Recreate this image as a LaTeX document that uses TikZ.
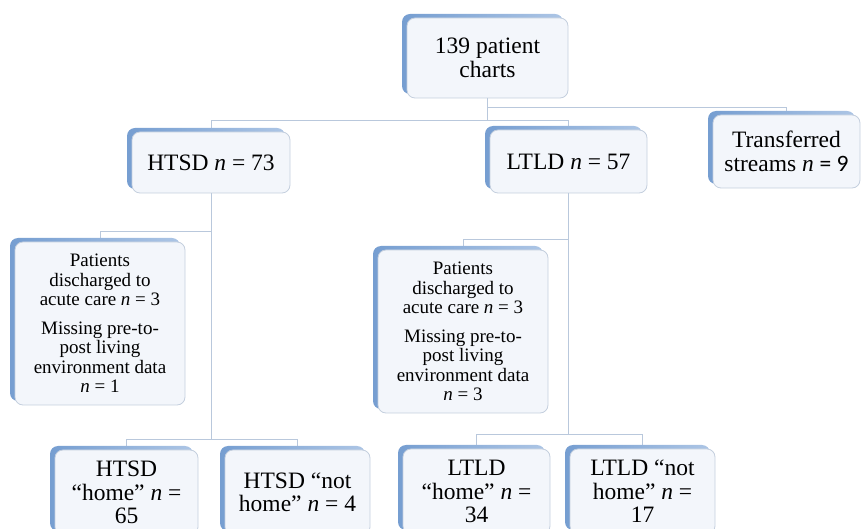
\documentclass[tikz,border=0pt]{standalone}
\usepackage{fontspec}
\setmainfont{Liberation Serif}
\newfontfamily\calfont{Carlito}
\usepackage{tikz}
\usetikzlibrary{backgrounds}

\definecolor{boxfill}{RGB}{243,246,251}
\definecolor{boxline}{RGB}{196,207,222}
\definecolor{shadowdark}{RGB}{118,158,209}
\definecolor{shadowlight}{RGB}{172,197,229}
\definecolor{linkblue}{RGB}{185,200,220}

\tikzset{
    box/.style={draw=boxline, fill=boxfill, line width=0.8pt, rounded corners=8pt,
        align=center, inner sep=0pt, outer sep=0pt,
        font=\fontsize{23.5}{23.5}\selectfont,
        preaction={draw=none, left color=shadowdark, right color=shadowlight,
            transform canvas={shift={(-5pt,4pt)}}}},
    smallbox/.style={box, font=\fontsize{19}{19.5}\selectfont},
    link/.style={draw=linkblue, line width=1pt}
}

\begin{document}
\begin{tikzpicture}[x=1pt, y=-1pt]
        \useasboundingbox (0,0) rectangle (863,529);
        \clip (0,0) rectangle (863,529);
        % top level
        \node[box, minimum width=161, minimum height=80] (root) at (487.5,58) {139 patient\\charts};
        \node[box, minimum width=158, minimum height=61] (htsd) at (211,162.5) {HTSD \textit{n} = 73};
        \node[box, minimum width=157, minimum height=63] (ltld) at (568.5,161.5) {LTLD \textit{n} = 57};
        \node[box, minimum width=147, minimum height=73] (trans) at (786.5,151.5) {Transferred\\streams \textit{n} {\calfont = 9}};
        % excluded patients
        \node[smallbox, minimum width=170, minimum height=163] (hpat) at (100,323.5)
            {Patients\\discharged to\\acute care \textit{n} = 3\\[9pt]Missing pre-to-\\post living\\environment data\\\textit{n} = 1};
        \node[smallbox, minimum width=170, minimum height=163] (lpat) at (463,331.5)
            {Patients\\discharged to\\acute care \textit{n} = 3\\[9pt]Missing pre-to-\\post living\\environment data\\\textit{n} = 3};
        % discharge destination
        \node[box, minimum width=143, minimum height=85] (hhome) at (126.5,492.5) {HTSD\\“home” \textit{n} =\\65};
        \node[box, minimum width=145, minimum height=85] (hnot) at (297.5,492.5) {HTSD “not\\home” \textit{n} = 4};
        \node[box, minimum width=147, minimum height=85] (lhome) at (476.5,491.5) {LTLD\\“home” \textit{n} =\\34};
        \node[box, minimum width=145, minimum height=85] (lnot) at (642.5,491.5) {LTLD “not\\home” \textit{n} =\\17};
        % bus levels
        \coordinate (busA) at (0,108);
        \coordinate (busB) at (0,121);
        \coordinate (busH) at (0,232);
        \coordinate (busL) at (0,240);
        \coordinate (busHH) at (0,440);
        \coordinate (busLL) at (0,435);
        % connectors
        \begin{scope}[on background layer]
            \draw[link] (root.south) -- (root.south |- busA) -| (trans.north);
            \draw[link] (root.south |- busA) -- (root.south |- busB) -| (htsd.north);
            \draw[link] (root.south |- busB) -| (ltld.north);
            \draw[link] (htsd.south) -- (htsd.south |- busHH);
            \draw[link] (htsd.south |- busH) -| (hpat.north);
            \draw[link] (htsd.south |- busHH) -| (hhome.north);
            \draw[link] (htsd.south |- busHH) -| (hnot.north);
            \draw[link] (ltld.south) -- (ltld.south |- busLL);
            \draw[link] (ltld.south |- busL) -| (lpat.north);
            \draw[link] (ltld.south |- busLL) -| (lhome.north);
            \draw[link] (ltld.south |- busLL) -| (lnot.north);
        \end{scope}
    \end{tikzpicture}
\end{document}
